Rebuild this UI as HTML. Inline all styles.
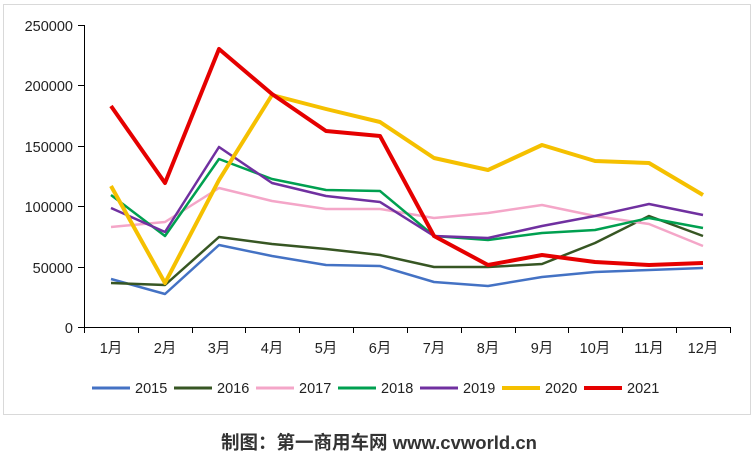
<!DOCTYPE html>
<html><head><meta charset="utf-8"><style>
body{margin:0;background:#fff;width:756px;height:460px;overflow:hidden}
svg text{font-family:"Liberation Sans","Noto Sans CJK SC",sans-serif}
</style></head><body>
<svg width="756" height="460" xmlns="http://www.w3.org/2000/svg">
<rect x="3.5" y="4.5" width="747" height="410" fill="#fff" stroke="#d9d9d9"/>
<g font-size="14.5" fill="#222" text-anchor="end">
<text x="73" y="31">250000</text><text x="73" y="91">200000</text><text x="73" y="152">150000</text>
<text x="73" y="212">100000</text><text x="73" y="273">50000</text><text x="73" y="333">0</text>
</g>
<g stroke="#000" stroke-width="1" fill="none">
<path d="M84.5 25V327.5H730"/>
<path d="M78 25.5H84M78 85.5H84M78 146.5H84M78 206.5H84M78 267.5H84M78 327.5H84"/>
<path d="M84.5 327v6M138.5 327v6M192.5 327v6M245.5 327v6M299.5 327v6M353.5 327v6M407.5 327v6M461.5 327v6M515.5 327v6M568.5 327v6M622.5 327v6M676.5 327v6M730.5 327v6"/>
</g>
<g font-size="14.5" fill="#222" text-anchor="middle">
<text x="111" y="353">1月</text><text x="165" y="353">2月</text><text x="219" y="353">3月</text><text x="272" y="353">4月</text>
<text x="326" y="353">5月</text><text x="380" y="353">6月</text><text x="434" y="353">7月</text><text x="488" y="353">8月</text>
<text x="542" y="353">9月</text><text x="595" y="353">10月</text><text x="649" y="353">11月</text><text x="703" y="353">12月</text>
</g>
<g fill="none" stroke-linejoin="round">
<polyline stroke="#4472c4" stroke-width="2.5" points="111,279 165,294 219,245 272,256 326,265 380,266 434,282 488,286 542,277 595,272 649,270 703,268"/>
<polyline stroke="#375623" stroke-width="2.5" points="111,283 165,285 219,237 272,244 326,249 380,255 434,267 488,267 542,264 595,243 649,216 703,236"/>
<polyline stroke="#f4a6c8" stroke-width="2.5" points="111,227 165,222 219,188 272,201 326,209 380,209 434,218 488,213 542,205 595,216 649,224 703,246"/>
<polyline stroke="#00a050" stroke-width="2.5" points="111,195 165,236 219,159 272,179 326,190 380,191 434,236 488,240 542,233 595,230 649,218 703,228"/>
<polyline stroke="#7030a0" stroke-width="2.5" points="111,208 165,232 219,147 272,183 326,196 380,202 434,236 488,238 542,226 595,216 649,204 703,215"/>
<polyline stroke="#f5c000" stroke-width="4" points="111,186 165,283 219,180 272,95 326,109 380,122 434,158 488,170 542,145 595,161 649,163 703,195"/>
<polyline stroke="#e50000" stroke-width="4" points="111,106 165,183 219,49 272,94 326,131 380,136 434,236 488,265 542,255 595,262 649,265 703,263"/>
</g>
<g stroke-width="3" fill="none">
<path d="M92 388H130" stroke="#4472c4"/><path d="M174 388H212" stroke="#375623"/>
<path d="M256 388H294" stroke="#f4a6c8"/><path d="M338 388H376" stroke="#00a050"/>
<path d="M420 388H458" stroke="#7030a0"/><path d="M502 388H540" stroke="#f5c000" stroke-width="4"/>
<path d="M584 388H622" stroke="#e50000" stroke-width="4"/>
</g>
<g font-size="14.5" fill="#222">
<text x="135" y="393">2015</text><text x="217" y="393">2016</text><text x="299" y="393">2017</text>
<text x="381" y="393">2018</text><text x="463" y="393">2019</text><text x="545" y="393">2020</text><text x="627" y="393">2021</text>
</g>
<text x="379" y="449" font-size="18.5" font-weight="bold" fill="#333" text-anchor="middle">制图：第一商用车网 www.cvworld.cn</text>
</svg>
</body></html>
